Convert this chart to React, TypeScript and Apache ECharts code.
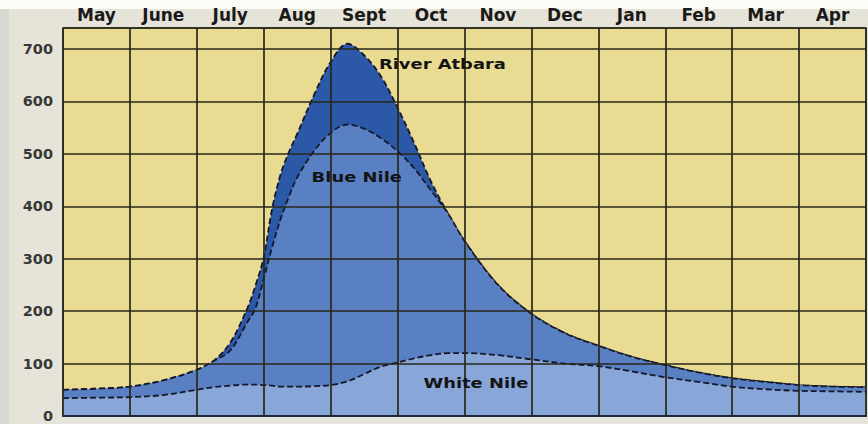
import React, { useEffect, useRef } from 'react';
import * as echarts from 'echarts';

const months = ['May', 'June', 'July', 'Aug', 'Sept', 'Oct', 'Nov', 'Dec', 'Jan', 'Feb', 'Mar', 'Apr'];

// position in months counted from 1 May
const monthPositions = [0, 0.5, 1, 1.5, 2, 2.25, 2.5, 2.75, 2.875, 3, 3.125, 3.25, 3.375, 3.5, 3.75, 4, 4.25, 4.5, 4.75, 5, 5.25, 5.5, 5.75, 6, 6.5, 7, 7.5, 8, 8.5, 9, 9.5, 10, 10.5, 11, 11.5, 12];

// cumulative flow boundaries (top of each band)
const atbaraTop = [50, 52, 56, 68, 88, 105, 140, 204, 248, 303, 395, 460, 503, 538, 612, 675, 710, 688, 648, 588, 520, 447, 387, 334, 250, 195, 158, 134, 113, 97, 83, 72, 65, 59, 56, 55];
const blueNileTop = [50, 52, 56, 68, 88, 105, 125, 178, 205, 262, 322, 375, 418, 455, 505, 540, 556, 548, 530, 505, 472, 430, 387, 334, 250, 195, 158, 134, 113, 97, 83, 72, 65, 59, 56, 55];
const whiteNileTop = [34, 35, 36, 40, 50, 55, 58, 60, 60, 59, 58, 56, 56, 56, 57, 59, 66, 80, 94, 102, 110, 116, 120, 120, 116, 108, 100, 95, 85, 74, 65, 56, 51, 48, 47, 46];

const yMax = 740;
const yStep = 100;

const annotations = [
  { text: 'River Atbara', t: 5.67, v: 671 },
  { text: 'Blue Nile', t: 4.39, v: 456 },
  { text: 'White Nile', t: 6.17, v: 63 },
];

const pts = (vals: number[]) => monthPositions.map((t, i) => [t, vals[i]]);

export default function App() {
  const ref = useRef<HTMLDivElement>(null);
  useEffect(() => {
    const chart = echarts.init(ref.current!, null, { renderer: 'svg' });
    const gridColor = '#29271a';
    const dash = { color: '#16182a', width: 1.8, type: [6, 3] as any };
    const mk = (name: string, vals: number[], fill: string, z: number) => ({
      name,
      type: 'line',
      data: pts(vals),
      smooth: 0.35,
      symbol: 'none',
      z,
      lineStyle: dash,
      areaStyle: { color: fill, opacity: 1 },
      xAxisIndex: 0,
      yAxisIndex: 0,
    });
    chart.setOption({
      animation: false,
      backgroundColor: '#e6e4d8',
      grid: {
        left: 63, right: 2, top: 28, bottom: 8,
        show: true, backgroundColor: '#e9db92', borderColor: gridColor, borderWidth: 1.5,
      },
      xAxis: [
        {
          type: 'value', min: 0, max: 12, interval: 1, position: 'bottom', z: 5,
          axisLabel: { show: false }, axisTick: { show: false },
          axisLine: { show: true, lineStyle: { color: '#1e2540', width: 2 } },
          splitLine: { show: true, lineStyle: { color: gridColor, width: 1.7 } },
        },
        {
          type: 'category', data: months, position: 'top', boundaryGap: true,
          axisLine: { show: false }, axisTick: { show: false }, splitLine: { show: false },
          axisLabel: {
            interval: 0, color: '#1a1a1a', fontSize: 17, fontWeight: 'bold',
            fontFamily: 'DejaVu Sans', margin: 5,
          },
        },
      ],
      yAxis: {
        type: 'value', min: 0, max: yMax, interval: yStep, z: 5,
        axisLine: { show: false }, axisTick: { show: false },
        axisLabel: {
          formatter: (v: number) => (v % 100 === 0 ? String(v) : ''),
          color: '#383838', fontSize: 14.5, fontWeight: 'bold', fontFamily: 'DejaVu Sans',
          margin: 10, padding: [0, 0, 7, 0],
        },
        splitLine: { show: true, lineStyle: { color: gridColor, width: 1.7 } },
      },
      series: [
        mk('River Atbara', atbaraTop, '#2c59a7', 2),
        mk('Blue Nile', blueNileTop, '#5a80c4', 3),
        mk('White Nile', whiteNileTop, '#88a6d8', 4),
      ],
    });
    const texts = annotations.map((a) => {
      const p = chart.convertToPixel({ xAxisIndex: 0, yAxisIndex: 0 }, [a.t, a.v]) as number[];
      return {
        type: 'text', x: p[0], y: p[1], scaleX: 1.28, z: 20,
        style: {
          text: a.text, font: 'bold 14px "DejaVu Sans"', fill: '#141414',
          textAlign: 'center', textVerticalAlign: 'middle', align: 'center', verticalAlign: 'middle',
        },
      };
    });
    chart.setOption({
      graphic: [
        { type: 'rect', shape: { x: 0, y: 0, width: 868, height: 9 }, style: { fill: '#fbfbf8' }, z: -1 },
        { type: 'rect', shape: { x: 0, y: 9, width: 9, height: 415 }, style: { fill: '#d9d9d4' }, z: -1 },
        ...texts,
      ],
    });
    return () => chart.dispose();
  }, []);
  return <div ref={ref} style={{ position: 'absolute', left: 0, top: 0, width: 868, height: 424 }} />;
}
